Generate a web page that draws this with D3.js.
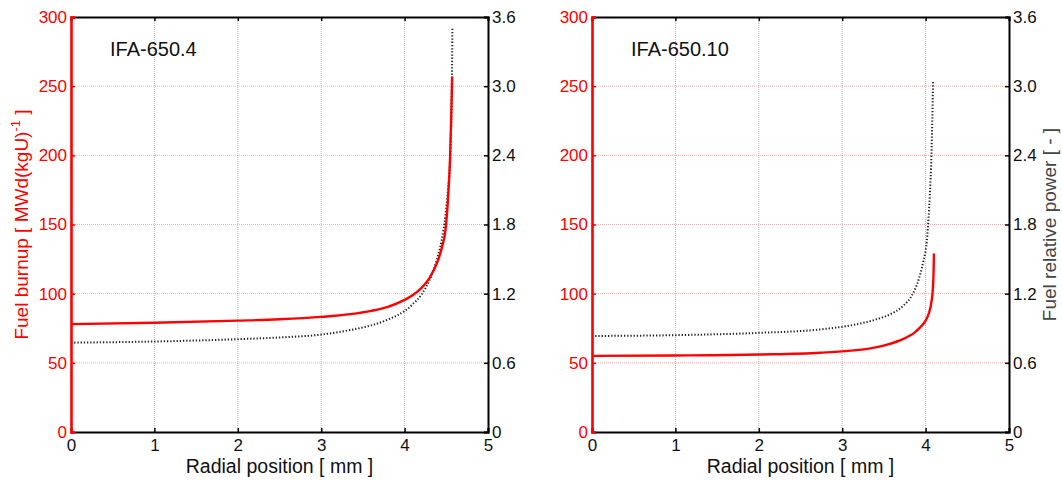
<!DOCTYPE html>
<html>
<head>
<meta charset="utf-8">
<script src="https://cdn.jsdelivr.net/npm/d3@7"></script>
<style>
  body { margin: 0; background: #fff; }
  svg text { font-family: "Liberation Sans", Arial, sans-serif; }
</style>
</head>
<body>
<div id="chart"></div>
<script>
// ── Data ──
const xTicks      = [0, 1, 2, 3, 4, 5];
const burnupTicks = [0, 50, 100, 150, 200, 250, 300];
const powerTicks  = [0, 0.6, 1.2, 1.8, 2.4, 3.0, 3.6];
const powerLabels = ["0", "0.6", "1.2", "1.8", "2.4", "3.0", "3.6"];
const panelTitles = ["IFA-650.4", "IFA-650.10"];

// IFA-650.4
const a_burnupX = [0, 1, 2, 2.5, 3.0, 3.35, 3.6, 3.8, 4.0, 4.1, 4.2, 4.3, 4.4, 4.45, 4.49, 4.52, 4.545, 4.558, 4.566, 4.57];
const a_burnupY = [78, 79, 80.5, 81.5, 83.2, 85.2, 87.6, 90.5, 95.5, 99, 104, 111.5, 124, 134, 146, 168, 198, 225, 245, 257];
const a_powerX  = [0, 1, 2, 2.5, 3.0, 3.35, 3.6, 3.8, 4.0, 4.1, 4.2, 4.3, 4.385, 4.44, 4.49, 4.52, 4.55, 4.562, 4.568, 4.571, 4.573];
const a_powerY  = [0.775, 0.785, 0.805, 0.82, 0.845, 0.885, 0.925, 0.975, 1.05, 1.11, 1.19, 1.32, 1.49, 1.65, 1.88, 2.1, 2.45, 2.8, 3.1, 3.3, 3.5];

// IFA-650.10
const b_burnupX = [0, 1, 2, 2.74, 3.1, 3.34, 3.55, 3.74, 3.86, 3.94, 4.0, 4.04, 4.07, 4.085, 4.095, 4.10];
const b_burnupY = [55, 55.3, 56, 57.3, 58.8, 60.5, 63.3, 67.5, 71.5, 76, 80.5, 86, 94, 102, 114, 129];
const b_powerX  = [0, 1, 2, 2.74, 3.14, 3.4, 3.6, 3.74, 3.84, 3.92, 3.97, 4.02, 4.05, 4.07, 4.08, 4.09];
const b_powerY  = [0.833, 0.84, 0.86, 0.89, 0.93, 0.975, 1.03, 1.10, 1.19, 1.33, 1.47, 1.7, 2.05, 2.4, 2.7, 3.04];

const panels = [
  { title: panelTitles[0], left: 71,  burnX: a_burnupX, burnY: a_burnupY, powX: a_powerX, powY: a_powerY, showLeftLabel: true,  showRightLabel: false },
  { title: panelTitles[1], left: 592, burnX: b_burnupX, burnY: b_burnupY, powX: b_powerX, powY: b_powerY, showLeftLabel: false, showRightLabel: true }
];

const W = 1062, H = 480;
const PW = 417, TOP = 17, BOTTOM = 432;
const RED = "#ff0000";
const TICK_FONT = "17px";

const svg = d3.select("#chart").append("svg")
  .attr("width", W).attr("height", H);

panels.forEach(p => {
  const x  = d3.scaleLinear().domain([0, 5]).range([p.left, p.left + PW]);
  const yL = d3.scaleLinear().domain([0, 300]).range([BOTTOM, TOP]);
  const yR = d3.scaleLinear().domain([0, 3.6]).range([BOTTOM, TOP]);
  const g  = svg.append("g");

  // ── Grid ──
  burnupTicks.slice(1, -1).forEach(v => {
    g.append("line")
      .attr("x1", x(0)).attr("x2", x(5))
      .attr("y1", yL(v)).attr("y2", yL(v))
      .attr("stroke", "#ff9a9a").attr("stroke-width", 0.8)
      .attr("stroke-dasharray", "1 1");
  });
  xTicks.slice(1, -1).forEach(v => {
    g.append("line")
      .attr("x1", x(v)).attr("x2", x(v))
      .attr("y1", TOP).attr("y2", BOTTOM)
      .attr("stroke", "#aaa").attr("stroke-width", 0.8)
      .attr("stroke-dasharray", "1 1");
  });

  // ── Curves ──
  const burnPts = p.burnX.map((v, i) => [v, p.burnY[i]]);
  const powPts  = p.powX.map((v, i) => [v, p.powY[i]]);

  g.append("path")
    .datum(powPts)
    .attr("fill", "none")
    .attr("stroke", "#222")
    .attr("stroke-width", 2)
    .attr("stroke-dasharray", "1.3 1.9")
    .attr("d", d3.line().x(d => x(d[0])).y(d => yR(d[1])).curve(d3.curveMonotoneX));

  g.append("path")
    .datum(burnPts)
    .attr("fill", "none")
    .attr("stroke", RED)
    .attr("stroke-width", 2.4)
    .attr("d", d3.line().x(d => x(d[0])).y(d => yL(d[1])).curve(d3.curveMonotoneX));

  // ── Axes frame ──
  const xBottom = d3.axisBottom(x).tickValues(xTicks).tickSize(-4).tickPadding(7).tickFormat(d3.format("d"));
  const xTop    = d3.axisTop(x).tickValues(xTicks).tickSize(-4).tickFormat("");
  const yLeft   = d3.axisLeft(yL).tickValues(burnupTicks).tickSize(-4).tickPadding(4);
  const yRight  = d3.axisRight(yR).tickValues(powerTicks).tickSize(-4).tickPadding(4)
                    .tickFormat((d, i) => powerLabels[i]);

  const gb = g.append("g").attr("transform", `translate(0,${BOTTOM})`).call(xBottom);
  const gt = g.append("g").attr("transform", `translate(0,${TOP})`).call(xTop);
  const gr = g.append("g").attr("transform", `translate(${x(5)},0)`).call(yRight);
  const gl = g.append("g").attr("transform", `translate(${x(0)},0)`).call(yLeft);

  [gb, gt, gr].forEach(a => {
    a.select(".domain").attr("stroke", "#000").attr("stroke-width", 2);
    a.selectAll(".tick line").attr("stroke", "#000").attr("stroke-width", 1.5);
    a.selectAll("text").attr("fill", "#111").style("font-size", TICK_FONT)
      .style("font-family", "Liberation Sans, Arial, sans-serif");
  });
  gl.select(".domain").attr("stroke", RED).attr("stroke-width", 2.6);
  gl.selectAll(".tick line").attr("stroke", RED).attr("stroke-width", 1.5);
  gl.selectAll("text").attr("fill", RED).style("font-size", TICK_FONT)
    .style("font-family", "Liberation Sans, Arial, sans-serif");

  // ── Labels ──
  g.append("text")
    .attr("x", x(2.5)).attr("y", 473)
    .attr("text-anchor", "middle")
    .style("font-size", "19.5px").attr("fill", "#111")
    .text("Radial position [ mm ]");

  g.append("text")
    .attr("x", p.left + 39).attr("y", 56)
    .style("font-size", "20px").attr("fill", "#111")
    .text(p.title);

  if (p.showLeftLabel) {
    const t = g.append("text")
      .attr("transform", `translate(28,${(TOP + BOTTOM) / 2}) rotate(-90)`)
      .attr("text-anchor", "middle")
      .style("font-size", "19px").attr("fill", RED);
    t.append("tspan").text("Fuel burnup [ MWd(kgU)");
    t.append("tspan").attr("dy", -8).style("font-size", "13px").text("-1");
    t.append("tspan").attr("dy", 8).text(" ]");
  }
  if (p.showRightLabel) {
    g.append("text")
      .attr("transform", `translate(1056,${(TOP + BOTTOM) / 2}) rotate(-90)`)
      .attr("text-anchor", "middle")
      .style("font-size", "19px").attr("fill", "#444")
      .text("Fuel relative power [ - ]");
  }
});
</script>
</body>
</html>
